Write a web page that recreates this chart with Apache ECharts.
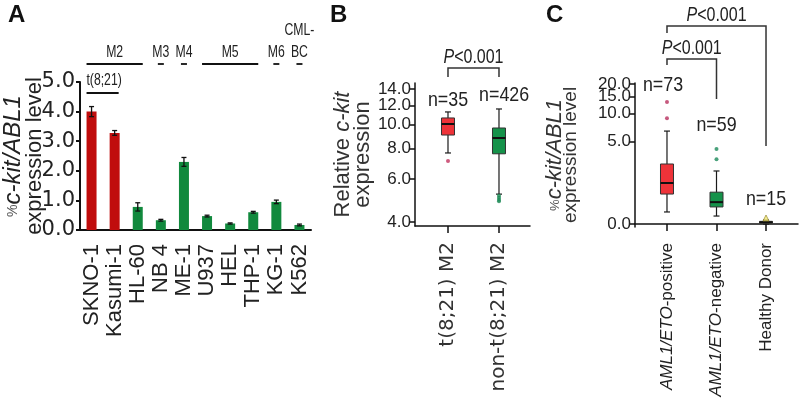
<!DOCTYPE html>
<html lang="en">
<head>
    <meta charset="utf-8"/>
    <title>c-kit expression</title>
    <script src="https://cdn.jsdelivr.net/npm/echarts@6/dist/echarts.min.js"></script>
</head>
<body style="margin:0;">
<div id="chart" style="width:800px;height:409px;"></div>
<script type="text/javascript">
    // panel A - cell lines
    const cellLines = ['SKNO-1', 'Kasumi-1', 'HL-60', 'NB 4', 'ME-1', 'U937', 'HEL', 'THP-1', 'KG-1', 'K562'];
    const cellExpr = [4.0, 3.28, 0.78, 0.33, 2.3, 0.47, 0.22, 0.6, 0.95, 0.17];
    const cellErr = [0.17, 0.08, 0.14, 0.03, 0.15, 0.03, 0.02, 0.03, 0.06, 0.03];
    const t821Lines = [0, 1];
    // FAB subtype groups: label, first index, last index
    const fabGroups = [['M2', 0, 2], ['M3', 3, 3], ['M4', 4, 4], ['M5', 5, 7], ['M6', 8, 8], ['CML-\nBC', 9, 9]];
    const ticksA = [0, 1, 2, 3, 4, 5];

    // panel B - [min, Q1, median, Q3, max]
    const groupsB = ['t(8;21) M2', 'non-t(8;21) M2'];
    const countB = [35, 426];
    const boxB = [[7.66, 9.07, 10.06, 10.65, 11.27], [5.2, 7.6, 8.82, 9.69, 11.59]];
    const outliersB = [[1, 7.1], [2, 5.12], [2, 5.02], [2, 4.93], [2, 4.86]];
    const ticksB = [4, 6, 8, 10, 12, 14];

    // panel C
    const groupsC = ['{i|AML1/ETO}-positive', '{i|AML1/ETO}-negative', 'Healthy Donor'];
    const countC = [73, 59, 15];
    const boxC = [[0.3, 0.92, 1.44, 2.69, 6.55], [0.19, 0.45, 0.61, 1.0, 2.17], [0.0, 0.02, 0.04, 0.06, 0.09]];
    const outliersC = [[1, 13.2], [1, 9.0], [2, 4.1], [2, 3.1]];
    const outliersDonor = [[3, 0.14]];
    const ticksC = [0, 5, 10, 15, 20];

    const RED_A = '#c00d0d', GREEN_A = '#11893d';
    const boxFill = ['#ee3339', '#15924a', '#f3e878'];
    const SANS = "'Liberation Sans', Arial";

    const lg = v => Math.log10(v);
    const lg1 = v => Math.log10(v + 1);

    // label offsets (px from grid top)
    const nLabelB = [[1, 17], [2.1, 12]];
    const nLabelC = [[0.92, 2], [2, 42], [3, 116]];

    // ticks whose labels would collide are put on a second, overlaid axis
    const ticksB1 = ticksB.filter((t, i) => i % 2 === 0);
    const ticksB2 = ticksB.filter((t, i) => i % 2 === 1);
    const ticksC1 = ticksC.filter((t, i) => i % 2 === 0);
    const ticksC2 = ticksC.filter((t, i) => i % 2 === 1);

    let chart = echarts.init(document.getElementById('chart'));

    function boxItem(api, fill) {
        const x = api.value(0);
        const p = [1, 2, 3, 4, 5].map(d => api.coord([x, api.value(d)]));
        const cx = p[0][0], hw = 6.5, cw = 3;
        const st = {stroke: '#1a1a1a', lineWidth: 1.2};
        return {
            type: 'group', children: [
                {type: 'line', shape: {x1: cx, y1: p[0][1], x2: cx, y2: p[4][1]}, style: st},
                {type: 'line', shape: {x1: cx - cw, y1: p[0][1], x2: cx + cw, y2: p[0][1]}, style: st},
                {type: 'line', shape: {x1: cx - cw, y1: p[4][1], x2: cx + cw, y2: p[4][1]}, style: st},
                {type: 'rect', shape: {x: cx - hw, y: p[3][1], width: hw * 2, height: Math.max(p[1][1] - p[3][1], 1)},
                    style: {fill: fill, stroke: '#333', lineWidth: 1}},
                {type: 'line', shape: {x1: cx - hw, y1: p[2][1], x2: cx + hw, y2: p[2][1]}, style: {stroke: '#111', lineWidth: 2}}
            ]
        };
    }

    // condensed text (the figure uses a narrow face)
    function narrowText(x, y, text, size, sx, va, extra) {
        return {
            type: 'text', x: x, y: y, scaleX: sx,
            style: Object.assign({
                text: text, align: 'center', verticalAlign: va || 'middle', fill: '#222',
                font: size + 'px ' + SANS
            }, extra || {})
        };
    }

    function pText(x, y) {
        return narrowText(x, y, '{i|P}<0.001', 20, 0.8, 'middle', {
            rich: {i: {fontStyle: 'italic', fontSize: 20, fontFamily: SANS}}
        });
    }

    function tickAxis(grid, min, max, vals, fmt, withLine) {
        return {
            gridIndex: grid, type: 'value', position: 'left', min: min, max: max,
            splitLine: {show: false},
            axisLine: {show: withLine, lineStyle: {color: '#111', width: 1.5}},
            axisTick: {show: withLine, length: 5, customValues: vals, lineStyle: {color: '#111', width: 1.5}},
            axisLabel: {
                fontSize: 17, color: '#222', margin: 4, fontFamily: SANS,
                showMinLabel: true, showMaxLabel: true, hideOverlap: false,
                customValues: vals, formatter: fmt
            }
        };
    }

    const brk = {stroke: '#333', lineWidth: 1.5, fill: null};
    const fmtB = v => Math.pow(10, v).toFixed(1);
    const fmtC = v => (Math.pow(10, v) - 1).toFixed(1);
    const minB = 0.5857, maxB = lg(14.8), minC = -0.028, maxC = 1.332;

    const yB = tickAxis(1, minB, maxB, ticksB1.map(lg), fmtB, true);
    yB.axisTick.customValues = ticksB.map(lg);
    yB.name = '{t|Relative }{i|c-kit}\n{t|expression}';
    yB.nameLocation = 'middle';
    yB.nameGap = 37;
    yB.nameRotate = 90;
    yB.nameTextStyle = {
        lineHeight: 20,
        rich: {
            i: {fontSize: 22, fontStyle: 'italic', color: '#333', fontFamily: SANS},
            t: {fontSize: 22, color: '#333', fontFamily: SANS}
        }
    };

    const yC = tickAxis(2, minC, maxC, ticksC1.map(lg1), fmtC, true);
    yC.axisTick.customValues = ticksC.map(lg1);
    yC.name = '{p|%}{i|c-kit/ABL1}\n{t|expression level}';
    yC.nameLocation = 'middle';
    yC.nameGap = 56;
    yC.nameRotate = 90;
    yC.nameTextStyle = {
        lineHeight: 16,
        rich: {
            p: {fontSize: 13, color: '#555', fontFamily: SANS},
            i: {fontSize: 22, fontStyle: 'italic', color: '#333', fontFamily: SANS},
            t: {fontSize: 19, color: '#333', fontFamily: SANS}
        }
    };

    chart.setOption({
        animation: false,
        textStyle: {fontFamily: SANS},
        grid: [
            {left: 80, top: 82, width: 231, height: 148, outerBoundsMode: 'none'},
            {left: 415, top: 83, width: 115, height: 143, outerBoundsMode: 'none'},
            {left: 635, top: 83, width: 163, height: 144, outerBoundsMode: 'none'}
        ],
        graphic: [
            {type: 'text', left: 8, top: 3, style: {text: 'A', font: 'bold 24px ' + SANS, fill: '#111'}},
            {type: 'text', left: 330, top: 3, style: {text: 'B', font: 'bold 24px ' + SANS, fill: '#111'}},
            {type: 'text', left: 546, top: 3, style: {text: 'C', font: 'bold 24px ' + SANS, fill: '#111'}}
        ],
        xAxis: [
            {
                gridIndex: 0, type: 'category', data: cellLines,
                axisLine: {lineStyle: {color: '#111', width: 2}},
                axisTick: {length: 6, interval: 0, lineStyle: {color: '#111', width: 2}},
                axisLabel: {rotate: 90, interval: 0, margin: 14, fontSize: 22, color: '#222', fontFamily: SANS}
            },
            {
                gridIndex: 1, type: 'value', min: 0.353, max: 2.608,
                splitLine: {show: false},
                axisLine: {lineStyle: {color: '#111', width: 1.5}},
                axisTick: {length: 7, customValues: [1, 2], lineStyle: {color: '#111', width: 1.5}},
                axisLabel: {
                    rotate: 90, margin: 16, fontSize: 20, color: '#333', fontFamily: 'DejaVu Sans',
                    customValues: [1, 2], formatter: v => groupsB[Math.round(v) - 1]
                }
            },
            {
                gridIndex: 2, type: 'value', min: 0.354, max: 3.646,
                splitLine: {show: false},
                axisLine: {lineStyle: {color: '#111', width: 1.5}},
                axisTick: {length: 7, customValues: [1, 2, 3], lineStyle: {color: '#111', width: 1.5}},
                axisLabel: {
                    rotate: 90, margin: 16, fontSize: 17, color: '#222', fontFamily: SANS,
                    customValues: [1, 2, 3], formatter: v => groupsC[Math.round(v) - 1],
                    rich: {i: {fontStyle: 'italic', fontSize: 17, fontFamily: SANS, color: '#222'}}
                }
            }
        ],
        yAxis: [
            {
                gridIndex: 0, type: 'value', min: 0, max: 5, interval: 1,
                splitLine: {show: false},
                axisLine: {show: true, lineStyle: {color: '#111', width: 2}},
                axisTick: {show: true, length: 4, lineStyle: {color: '#111', width: 2}},
                axisLabel: {
                    fontSize: 21, color: '#222', margin: 5, fontFamily: 'DejaVu Sans',
                    showMinLabel: true, showMaxLabel: true, formatter: v => v.toFixed(1)
                },
                name: '{p|%}{i|c-kit/ABL1}\n{t|expression level}',
                nameLocation: 'middle', nameGap: 34, nameRotate: 90, nameMoveOverlap: false,
                nameTextStyle: {
                    lineHeight: 22,
                    rich: {
                        p: {fontSize: 14, color: '#555', fontFamily: SANS},
                        i: {fontSize: 24, fontStyle: 'italic', color: '#222', fontFamily: SANS},
                        t: {fontSize: 22, color: '#222', fontFamily: SANS}
                    }
                }
            },
            yB,
            yC,
            tickAxis(1, minB, maxB, ticksB2.map(lg), fmtB, false),
            tickAxis(2, minC, maxC, ticksC2.map(lg1), fmtC, false)
        ],
        series: [
            {
                type: 'bar', xAxisIndex: 0, yAxisIndex: 0, barWidth: 10,
                data: cellExpr.map((v, i) => ({value: v, itemStyle: {color: i < 2 ? RED_A : GREEN_A}}))
            },
            {
                // error bars
                type: 'custom', xAxisIndex: 0, yAxisIndex: 0, z: 5,
                data: cellExpr.map((v, i) => [i, v - cellErr[i], v + cellErr[i]]),
                renderItem: function (params, api) {
                    const lo = api.coord([api.value(0), api.value(1)]);
                    const hi = api.coord([api.value(0), api.value(2)]);
                    const st = {stroke: '#111', lineWidth: 1.3};
                    return {
                        type: 'group', children: [
                            {type: 'line', shape: {x1: lo[0], y1: lo[1], x2: hi[0], y2: hi[1]}, style: st},
                            {type: 'line', shape: {x1: lo[0] - 2.5, y1: lo[1], x2: lo[0] + 2.5, y2: lo[1]}, style: st},
                            {type: 'line', shape: {x1: hi[0] - 2.5, y1: hi[1], x2: hi[0] + 2.5, y2: hi[1]}, style: st}
                        ]
                    };
                }
            },
            {
                // FAB group labels above panel A
                type: 'custom', xAxisIndex: 0, yAxisIndex: 0, clip: false,
                data: fabGroups.map(g => [g[1], g[2]]),
                renderItem: function (params, api) {
                    const from = api.value(0), to = api.value(1);
                    const y0 = params.coordSys.y;
                    const a = api.coord([from, 0])[0], b = api.coord([to, 0])[0];
                    let x1 = a - 5, x2 = b + 5;
                    if (from === to) { x1 = a - 3; x2 = a + 3; }
                    return {
                        type: 'group', children: [
                            {type: 'line', shape: {x1: x1, y1: y0 - 18, x2: x2, y2: y0 - 18}, style: {stroke: '#111', lineWidth: 1.8}},
                            narrowText((a + b) / 2, y0 - 19, fabGroups[params.dataIndex][0], 17, 0.72, 'bottom', {lineHeight: 22})
                        ]
                    };
                }
            },
            {
                // t(8;21) label
                type: 'custom', xAxisIndex: 0, yAxisIndex: 0, clip: false,
                data: [[t821Lines[0], t821Lines[t821Lines.length - 1]]],
                renderItem: function (params, api) {
                    const y0 = params.coordSys.y;
                    const a = api.coord([api.value(0), 0])[0], b = api.coord([api.value(1), 0])[0];
                    return {
                        type: 'group', children: [
                            {type: 'line', shape: {x1: a - 5, y1: y0 + 11, x2: b + 4, y2: y0 + 11}, style: {stroke: '#111', lineWidth: 1.8}},
                            narrowText((a + b) / 2 + 1, y0 - 2, 't(8;21)', 17, 0.72)
                        ]
                    };
                }
            },
            {
                type: 'custom', xAxisIndex: 1, yAxisIndex: 1, z: 3,
                data: boxB.map((b, i) => [i + 1].concat(b.map(lg))),
                renderItem: (params, api) => boxItem(api, boxFill[params.dataIndex])
            },
            {
                type: 'scatter', xAxisIndex: 1, yAxisIndex: 1, symbolSize: 4, z: 4,
                data: outliersB.map(o => ({value: [o[0], lg(o[1])], itemStyle: {color: o[0] === 1 ? '#c2325e' : '#1b8a55'}}))
            },
            {
                // P value and n labels for panel B
                type: 'custom', xAxisIndex: 1, yAxisIndex: 1, clip: false,
                data: [[1, 2]],
                renderItem: function (params, api) {
                    const y0 = params.coordSys.y;
                    const a = api.coord([1, 1])[0], b = api.coord([2, 1])[0];
                    const kids = [
                        {type: 'polyline', shape: {points: [[a, y0 - 6], [a, y0 - 15], [b, y0 - 15], [b, y0 - 6]]}, style: brk},
                        pText((a + b) / 2, y0 - 26)
                    ];
                    nLabelB.forEach((p, i) => kids.push(narrowText(api.coord([p[0], 1])[0], y0 + p[1], 'n=' + countB[i], 21, 0.85)));
                    return {type: 'group', children: kids};
                }
            },
            {
                type: 'custom', xAxisIndex: 2, yAxisIndex: 2, z: 3,
                data: boxC.map((b, i) => [i + 1].concat(b.map(lg1))),
                renderItem: (params, api) => boxItem(api, boxFill[params.dataIndex])
            },
            {
                type: 'scatter', xAxisIndex: 2, yAxisIndex: 2, symbolSize: 4, z: 4,
                data: outliersC.map(o => ({value: [o[0], lg1(o[1])], itemStyle: {color: o[0] === 1 ? '#b8305e' : '#1b8a5a'}}))
            },
            {
                type: 'scatter', xAxisIndex: 2, yAxisIndex: 2, symbol: 'triangle', symbolSize: 6, z: 4,
                itemStyle: {color: '#f3e878', borderColor: '#8a7d20', borderWidth: 0.8},
                data: outliersDonor.map(o => [o[0], lg1(o[1])])
            },
            {
                // P values and n labels for panel C
                type: 'custom', xAxisIndex: 2, yAxisIndex: 2, clip: false,
                data: [[1, 3]],
                renderItem: function (params, api) {
                    const y0 = params.coordSys.y;
                    const a = api.coord([1, 0])[0], b = api.coord([2, 0])[0], c = api.coord([3, 0])[0];
                    const kids = [
                        {type: 'polyline', shape: {points: [[a, y0 - 18], [a, y0 - 24], [b, y0 - 24], [b, y0 + 16]]}, style: brk},
                        {type: 'polyline', shape: {points: [[a, y0 - 50], [a, y0 - 57], [c, y0 - 57], [c, y0 + 63]]}, style: brk},
                        pText((a + b) / 2, y0 - 35),
                        pText((a + c) / 2, y0 - 68)
                    ];
                    nLabelC.forEach((p, i) => kids.push(narrowText(api.coord([p[0], 0])[0], y0 + p[1], 'n=' + countC[i], 21, 0.85)));
                    return {type: 'group', children: kids};
                }
            }
        ]
    });
</script>
</body>
</html>
